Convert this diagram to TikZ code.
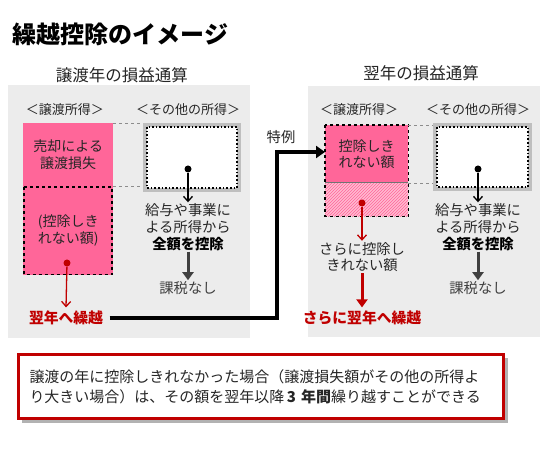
\documentclass[tikz,border=0pt]{standalone}
\usepackage{fontspec}
\setmainfont{Noto Sans CJK JP}
\usetikzlibrary{arrows.meta,patterns}
\definecolor{pinkc}{HTML}{FF6699}
\definecolor{redc}{HTML}{C00000}
\definecolor{panelc}{HTML}{ECECEC}
\definecolor{darkg}{HTML}{404040}
\definecolor{txt}{HTML}{262626}
\tikzset{
  title/.style={font=\fontsize{24}{28}\selectfont\bfseries, text=black},
  heading/.style={font=\fontsize{16.5}{19}\selectfont, text=txt},
  cat/.style={font=\fontsize{13}{16}\selectfont, text=txt, inner sep=1pt},
  lbl/.style={font=\fontsize{14.3}{16.8}\selectfont, text=txt, align=center, inner sep=1pt},
  pinkbox/.style={rectangle, anchor=north west, fill=pinkc, inner sep=0pt, font=\fontsize{14}{16.5}\selectfont, text=txt, align=center},
  otherbox/.style={rectangle, anchor=north west, draw=black!25, line width=4pt, fill=white, inner sep=0pt},
  dotnode/.style={circle, fill=#1, inner sep=0pt, minimum size=7pt},
  blackarrow/.style={-{Straight Barb[length=5pt,width=9pt]}, line width=1.3pt, black},
  redarrow/.style={-{Straight Barb[length=5pt,width=9pt]}, line width=1.3pt, redc},
  bigredarrow/.style={-{Triangle[length=8pt,width=11pt]}, line width=3pt, redc},
  grayarrow/.style={-{Triangle[length=8pt,width=11pt]}, line width=3pt, darkg},
  gdash/.style={dashed, black!45, line width=0.7pt},
  carry/.style={font=\fontsize{14.8}{17}\selectfont\bfseries, text=redc}
}
\begin{document}
\begin{tikzpicture}[x=1pt,y=-1pt]
\useasboundingbox (0,0) rectangle (555,449);
\fill[white] (0,0) rectangle (555,449);
% title and panels
\node[title, anchor=west] (title) at (9,34) {繰越控除のイメージ};
\fill[panelc] (8,85) rectangle (250,338);
\fill[panelc] (308,86) rectangle (540,337);
\node[heading] (lhead) at (122,75) {譲渡年の損益通算};
\node[heading] (rhead) at (421,73) {翌年の損益通算};
% left panel
\node[cat] (lcat1) at (65,110) {＜譲渡所得＞};
\node[cat] (lcat2) at (188,110) {＜その他の所得＞};
\node[pinkbox, minimum width=90pt, minimum height=63pt] (lsale) at (23,123) {売却による\\譲渡損失};
\node[pinkbox, minimum width=90pt, minimum height=89pt] (lrest) at (23,186) {(控除しき\\れない額)};
\draw[dashed, line width=1.5pt] ([shift={(1,1)}]lrest.north west) rectangle ([shift={(-1.5,-1)}]lrest.south east);
\node[otherbox, minimum width=94pt, minimum height=65pt] (lother) at (143,123) {};
\draw[dotted, line width=1.6pt] ([shift={(4,4)}]lother.north west) rectangle ([shift={(-4,-4)}]lother.south east);
\draw[gdash] (lsale.north east) -- (lother.north west);
\draw[gdash] (lsale.south east) -- (lsale.south east -| lother.west);
\node[dotnode=black] (ldot) at (188,169) {};
\node[lbl] (ltext) at (188,227) {給与や事業に\\よる所得から\\\textbf{\color{black}全額を控除}};
\draw[blackarrow] (ldot) -- (ltext.north);
\node[lbl, text=darkg] (lnotax) at (188,288) {課税なし};
\draw[grayarrow] (ltext.south) -- (lnotax.north);
\node[dotnode=redc] (lrdot) at (67,263) {};
\node[carry] (lcarry) at (66,318) {翌年へ繰越};
\draw[redarrow] (lrdot) -- (lcarry.north);
% right panel
\node[cat] (rcat1) at (359,110) {＜譲渡所得＞};
\node[cat] (rcat2) at (478,110) {＜その他の所得＞};
\node[pinkbox, minimum width=83pt, minimum height=58pt] (rtop) at (325,125) {控除しき\\れない額};
\node[rectangle, anchor=north west, inner sep=0pt, minimum width=83pt, minimum height=33pt,
      preaction={fill=pinkc!45}, pattern=north east lines, pattern color=pinkc] (rhatch) at (325,183) {};
\draw[black!55, line width=1pt] (rhatch.north west) -- (rhatch.north east);
\draw[dashed, line width=1.5pt] (rtop.north west) rectangle (rhatch.south east);
\node[otherbox, minimum width=95pt, minimum height=64pt] (rother) at (433,123) {};
\draw[dotted, line width=1.6pt] ([shift={(4,4)}]rother.north west) rectangle ([shift={(-4,-4)}]rother.south east);
\draw[gdash] (rtop.north east) -- (rtop.north east -| rother.west);
\draw[gdash] (rhatch.north east) -- (rhatch.north east -| rother.west);
\node[dotnode=black] (rdot) at (478,169) {};
\node[lbl] (rtext) at (478,227) {給与や事業に\\よる所得から\\\textbf{\color{black}全額を控除}};
\draw[blackarrow] (rdot) -- (rtext.north);
\node[lbl, text=darkg] (rnotax) at (478,288) {課税なし};
\draw[grayarrow] (rtext.south) -- (rnotax.north);
\node[dotnode=redc] (rrdot) at (362,203) {};
\node[lbl] (rtext2) at (362,257) {さらに控除し\\きれない額};
\draw[redarrow] (rrdot) -- (rtext2.north);
\node[carry] (rcarry) at (362,318) {さらに翌年へ繰越};
\draw[bigredarrow] (rtext2.south) -- (rcarry.north);
% special route
\node[lbl] (tokurei) at (281,137) {特例};
\coordinate (bend) at (277,152);
\draw[line width=4pt, -{Triangle[length=9pt,width=12pt]}] ([xshift=3pt]lcarry.east) -| (bend) -- (bend -| rtop.west);
% bottom note
\fill[black!30] (22,358) rectangle (508,423);
\node[rectangle, draw=redc, line width=3pt, fill=white, anchor=north west, minimum width=485pt, minimum height=64pt,
      inner xsep=11pt, text width=463pt, align=left, font=\fontsize{15}{20}\selectfont, text=txt] (note) at (17,353)
  {譲渡の年に控除しきれなかった場合（譲渡損失額がその他の所得よ\\り大きい場合）は、その額を翌年以降\,\textbf{3 年間}繰り越すことができる};
\end{tikzpicture}
\end{document}
